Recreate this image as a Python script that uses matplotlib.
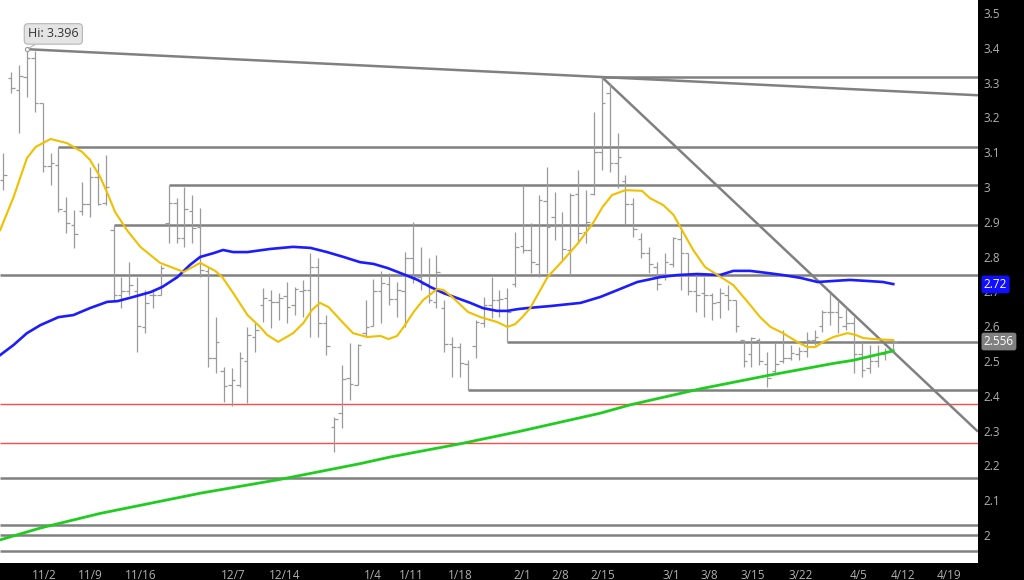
import matplotlib
matplotlib.use('Agg')
import matplotlib.pyplot as plt
import numpy as np
from matplotlib.transforms import blended_transform_factory

plt.rcParams['font.family'] = ['Open Sans', 'DejaVu Sans']

# ---------------- data ----------------
opens = [3.02, 3.313, 3.28, 3.316, 3.37, 3.241, 3.060, 3.063, 2.93, 2.89,
         2.93, 2.95, 3.03, 2.955, 2.876, 2.69, 2.70, 2.70, 2.598, 2.69,
         2.69, 2.897, 2.954, 2.853, 2.93, 2.885, 2.76, 2.51, 2.47, 2.43,
         2.43, 2.50, 2.57, 2.66, 2.675, 2.67, 2.687, 2.66, 2.70, 2.704,
         2.77, 2.61, 2.31, 2.351, 2.45, 2.43, 2.58, 2.60, 2.70, 2.72,
         2.678, 2.70, 2.796, 2.74, 2.72, 2.67, 2.652, 2.549, 2.54, 2.49,
         2.543, 2.61, 2.66, 2.675, 2.68, 2.72, 2.83, 2.82, 2.78, 2.96,
         2.914, 2.888, 2.82, 2.98, 2.87, 2.98, 3.10, 3.27, 3.07, 3.017,
         2.951, 2.85, 2.81, 2.77, 2.75, 2.78, 2.85, 2.81, 2.70, 2.695,
         2.69, 2.67, 2.69, 2.675, 2.56, 2.52, 2.56, 2.49, 2.47, 2.50,
         2.51, 2.52, 2.53, 2.56, 2.60, 2.64, 2.64, 2.60, 2.61, 2.52,
         2.48, 2.50, 2.52, 2.53]
highs = [3.098, 3.330, 3.351, 3.396, 3.390, 3.241, 3.098, 3.115, 2.971, 2.934,
         3.014, 3.057, 3.069, 3.092, 2.891, 2.741, 2.784, 2.741, 2.704, 2.704,
         2.776, 3.006, 2.968, 3.000, 2.977, 2.940, 2.770, 2.626, 2.483, 2.480,
         2.526, 2.598, 2.610, 2.710, 2.704, 2.695, 2.727, 2.713, 2.733, 2.810,
         2.796, 2.632, 2.339, 2.489, 2.552, 2.549, 2.675, 2.736, 2.760, 2.753,
         2.727, 2.813, 2.899, 2.828, 2.796, 2.805, 2.675, 2.569, 2.552, 2.503,
         2.618, 2.684, 2.741, 2.704, 2.710, 2.871, 3.006, 2.897, 2.977, 3.057,
         2.986, 2.928, 2.983, 3.049, 2.991, 3.216, 3.316, 3.299, 3.155, 3.034,
         2.968, 2.868, 2.828, 2.784, 2.810, 2.856, 2.876, 2.810, 2.750, 2.741,
         2.695, 2.710, 2.718, 2.675, 2.560, 2.569, 2.566, 2.526, 2.552, 2.589,
         2.546, 2.540, 2.583, 2.589, 2.647, 2.695, 2.675, 2.655, 2.626, 2.555,
         2.546, 2.546, 2.537, 2.560]
lows = [2.991, 3.270, 3.155, 3.259, 3.216, 3.043, 3.006, 2.928, 2.868, 2.825,
        2.920, 2.914, 2.948, 2.948, 2.675, 2.652, 2.690, 2.526, 2.580, 2.652,
        2.690, 2.839, 2.839, 2.828, 2.839, 2.741, 2.483, 2.466, 2.382, 2.371,
        2.425, 2.379, 2.526, 2.612, 2.595, 2.618, 2.609, 2.632, 2.626, 2.569,
        2.569, 2.517, 2.239, 2.307, 2.388, 2.430, 2.569, 2.600, 2.609, 2.661,
        2.626, 2.598, 2.724, 2.704, 2.667, 2.652, 2.526, 2.454, 2.454, 2.417,
        2.509, 2.598, 2.624, 2.626, 2.556, 2.713, 2.810, 2.753, 2.741, 2.753,
        2.848, 2.790, 2.747, 2.839, 2.839, 2.977, 3.049, 3.043, 2.997, 2.891,
        2.856, 2.796, 2.753, 2.704, 2.733, 2.770, 2.704, 2.690, 2.640, 2.626,
        2.618, 2.624, 2.647, 2.583, 2.483, 2.483, 2.489, 2.425, 2.466, 2.494,
        2.503, 2.503, 2.511, 2.546, 2.583, 2.603, 2.580, 2.589, 2.466, 2.454,
        2.466, 2.483, 2.503, 2.523]
closes = [3.034, 3.284, 3.319, 3.370, 3.241, 3.060, 3.069, 2.937, 2.897, 2.865,
          2.951, 3.029, 2.951, 3.000, 2.690, 2.700, 2.718, 2.600, 2.667, 2.690,
          2.767, 2.954, 2.853, 2.937, 2.882, 2.761, 2.510, 2.555, 2.428, 2.445,
          2.510, 2.575, 2.590, 2.680, 2.670, 2.680, 2.655, 2.707, 2.704, 2.770,
          2.609, 2.543, 2.333, 2.448, 2.434, 2.545, 2.598, 2.700, 2.724, 2.678,
          2.704, 2.796, 2.740, 2.720, 2.675, 2.756, 2.549, 2.540, 2.494, 2.420,
          2.612, 2.660, 2.675, 2.678, 2.640, 2.828, 2.820, 2.784, 2.963, 2.885,
          2.888, 2.822, 2.977, 2.868, 2.900, 3.100, 3.241, 3.069, 3.086, 2.951,
          2.880, 2.810, 2.780, 2.720, 2.784, 2.853, 2.810, 2.700, 2.690, 2.690,
          2.667, 2.695, 2.675, 2.600, 2.500, 2.566, 2.500, 2.450, 2.490, 2.509,
          2.523, 2.530, 2.560, 2.570, 2.640, 2.640, 2.626, 2.610, 2.520, 2.474,
          2.500, 2.520, 2.530, 2.556]

# moving averages (bar position, value)
fast_x = [-0.4, 1.3, 3.0, 4.1, 6.0, 8.1, 10.0, 11.0, 12.3, 13.2, 14.2, 15.7,
          17.4, 19.9, 22.9, 25.0, 26.9, 27.8, 29.2, 31.0, 32.6, 33.5, 34.9,
          36.8, 38.1, 39.2, 40.2, 41.3, 42.8, 44.4, 46.2, 47.9, 48.9, 50.0,
          51.0, 52.1, 53.3, 55.1, 55.9, 57.0, 59.0, 60.6, 62.7, 64.0, 65.0,
          65.9, 66.9, 69.1, 71.1, 73.0, 74.9, 76.1, 77.3, 79.0, 81.1, 82.1,
          83.8, 85.1, 86.3, 87.6, 89.1, 90.7, 92.7, 94.5, 96.1, 97.4, 99.0,
          100.8, 102.1, 103.1, 104.1, 105.4, 107.2, 108.2, 109.2, 110.5, 113.0]
fast_v = [2.876, 2.971, 3.083, 3.115, 3.138, 3.126, 3.101, 3.078, 3.029, 2.983,
          2.928, 2.876, 2.828, 2.782, 2.756, 2.782, 2.759, 2.741, 2.695, 2.632,
          2.598, 2.575, 2.555, 2.580, 2.609, 2.647, 2.667, 2.655, 2.618, 2.580,
          2.569, 2.572, 2.563, 2.572, 2.603, 2.641, 2.675, 2.707, 2.704, 2.684,
          2.641, 2.626, 2.612, 2.598, 2.606, 2.626, 2.652, 2.741, 2.790, 2.839,
          2.897, 2.943, 2.977, 2.991, 2.989, 2.968, 2.948, 2.920, 2.871, 2.819,
          2.770, 2.747, 2.718, 2.670, 2.626, 2.598, 2.580, 2.555, 2.540, 2.540,
          2.555, 2.569, 2.580, 2.575, 2.566, 2.563, 2.560]

mid_x = [-0.4, 1.3, 3.0, 4.7, 7.0, 8.9, 11.0, 13.2, 14.5, 16.5, 18.7, 20.2,
         22.1, 23.7, 25.0, 26.7, 27.9, 29.2, 31.0, 33.9, 36.8, 39.0, 41.1,
         43.2, 45.3, 47.0, 48.8, 50.4, 52.6, 54.2, 55.9, 57.6, 59.3, 60.9,
         62.7, 64.0, 65.3, 66.5, 69.5, 73.3, 75.8, 78.0, 80.5, 83.4, 85.6,
         88.1, 91.0, 92.7, 94.8, 97.0, 99.0, 101.2, 103.4, 105.4, 107.5,
         109.7, 111.7, 113.0]
mid_v = [2.517, 2.546, 2.580, 2.603, 2.626, 2.632, 2.652, 2.670, 2.672, 2.684,
         2.698, 2.713, 2.741, 2.776, 2.799, 2.810, 2.819, 2.813, 2.813, 2.822,
         2.828, 2.825, 2.813, 2.799, 2.784, 2.779, 2.767, 2.753, 2.733, 2.713,
         2.695, 2.681, 2.667, 2.652, 2.644, 2.644, 2.649, 2.652, 2.658, 2.667,
         2.684, 2.704, 2.727, 2.741, 2.747, 2.750, 2.747, 2.759, 2.759, 2.753,
         2.747, 2.739, 2.727, 2.730, 2.733, 2.730, 2.727, 2.721]

slow_x = [-0.4, 4.7, 12.3, 25.0, 35.2, 45.3, 49.1, 58.0, 65.6, 75.8, 79.6,
          88.5, 97.0, 105.4, 107.9, 113.0]
slow_v = [1.986, 2.020, 2.062, 2.120, 2.160, 2.205, 2.224, 2.262, 2.298, 2.350,
          2.374, 2.420, 2.458, 2.493, 2.502, 2.529]

# date labels and their bar positions
date_labels = ['11/2', '11/9', '11/16', '12/7', '12/14', '1/4', '1/11', '1/18',
               '2/1', '2/8', '2/15', '3/1', '3/8', '3/15', '3/22', '4/5',
               '4/12', '4/19']
date_pos = [5.2, 11.0, 17.5, 29.2, 35.7, 46.9, 51.8, 58.0, 65.9, 70.7, 76.1,
            84.8, 89.6, 95.2, 101.2, 108.6, 114.2, 120.1]
price_ticks = [2.0, 2.1, 2.2, 2.3, 2.4, 2.5, 2.6, 2.7, 2.8, 2.9, 3.0, 3.1,
               3.2, 3.3, 3.4, 3.5]

# drawn support / resistance levels: (price, starting bar)
levels = [(3.316, 76), (3.115, 7), (3.006, 21), (2.891, 14), (2.556, 64),
          (2.417, 59)]
full_levels = [2.747, 2.164, 2.029, 2.0, 1.954]
red_levels = [2.376, 2.264]
trend_a = [(3, 3.396), (76, 3.316)]
trend_b = [(76, 3.316), (123.8, 2.296)]
hi_bar, hi_value = 3, 3.396
last_price = 2.556
mid_ma_last = 2.72

# ---------------- drawing ----------------
fig = plt.figure(figsize=(10.24, 5.8), dpi=100, facecolor='black')
ax = fig.add_axes([0, 17 / 580, 978 / 1024, 563 / 580])
ax.set_facecolor('white')
xmin, xmax = -0.42, 123.76
ax.set_xlim(xmin, xmax)
ax.set_ylim(1.9195, 3.5374)
for s in ax.spines.values():
    s.set_visible(False)

lvl_col = '#808080'
for v, start in levels:
    ax.hlines(v, start, xmax, color=lvl_col, lw=1.8, zorder=2)
for v in full_levels:
    ax.hlines(v, xmin, xmax, color=lvl_col, lw=1.8, zorder=2)
for v in red_levels:
    ax.hlines(v, xmin, xmax, color='#ff4a4a', lw=1.0, zorder=2)

for (x0, y0), (x1, y1) in (trend_a, trend_b):
    slope = (y1 - y0) / (x1 - x0)
    ax.plot([x0, xmax], [y0, y0 + slope * (xmax - x0)], color=lvl_col,
            lw=1.8, zorder=2, solid_capstyle='butt')

idx = np.arange(len(opens))
bar_col = '#9a9a9a'
ax.vlines(idx, lows, highs, color=bar_col, lw=0.9, zorder=3)
ax.hlines(opens, idx - 0.45, idx, color=bar_col, lw=0.9, zorder=3)
ax.hlines(closes, idx, idx + 0.45, color=bar_col, lw=0.9, zorder=3)

ax.plot(slow_x, slow_v, color='#1fcc1f', lw=2.0, zorder=4)
ax.plot(mid_x, mid_v, color='#1c1cff', lw=1.9, zorder=4)
ax.plot(fast_x, fast_v, color='#f0c000', lw=1.5, zorder=5)

ax.plot([hi_bar], [hi_value], marker='o', ms=3, mfc='white', mec='#999999',
        mew=0.8, zorder=6)
ax.annotate(f'Hi: {hi_value:.3f}', xy=(hi_bar, hi_value), xytext=(19, 11),
            textcoords='offset points', ha='center', va='center',
            fontsize=9, color='#333333', zorder=7,
            bbox=dict(boxstyle='round,pad=0.3', fc='#e4e4e4', ec='#b5b5b5', lw=0.8),
            arrowprops=dict(arrowstyle='-', color='#b5b5b5', lw=0.8,
                            shrinkA=0, shrinkB=1))

# axes ticks
ax.yaxis.tick_right()
ax.set_yticks(price_ticks)
ax.set_yticklabels([f'{t:g}' for t in price_ticks])
ax.set_xticks(date_pos)
ax.set_xticklabels(date_labels)
ax.tick_params(axis='y', length=0, pad=4, labelcolor='#b0b0b0', labelsize=8.5)
ax.tick_params(axis='x', length=0, pad=4, labelcolor='#b0b0b0', labelsize=8.5)

# price tags on the right axis
tr = blended_transform_factory(ax.transAxes, ax.transData)
ax.text(1.006, mid_ma_last, f'{mid_ma_last:g}', transform=tr, ha='left',
        va='center', fontsize=8.5, color='white', clip_on=False, zorder=8,
        bbox=dict(boxstyle='round,pad=0.2', fc='#1010ff', ec='none'))
ax.text(1.006, last_price, f'{last_price:.3f}', transform=tr, ha='left',
        va='center', fontsize=8.5, color='white', clip_on=False, zorder=8,
        bbox=dict(boxstyle='round,pad=0.2', fc='#808080', ec='none'))

fig.savefig('out.png', dpi=100, facecolor='black')
